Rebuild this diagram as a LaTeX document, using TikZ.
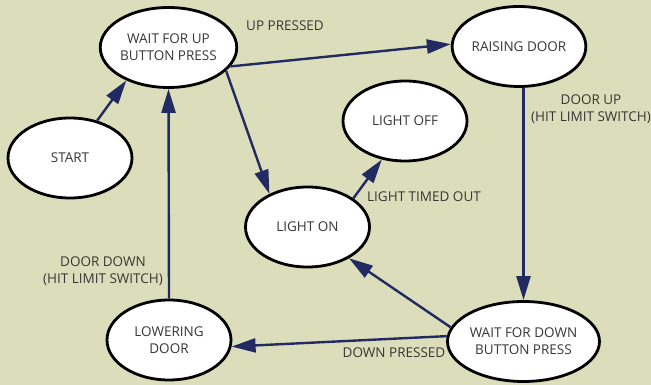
\documentclass[tikz,border=0pt]{standalone}
\usepackage{fontspec}
\setmainfont{Open Sans}
\usetikzlibrary{arrows.meta,shapes.geometric}
\definecolor{bg}{RGB}{220,221,186}
\definecolor{navy}{RGB}{33,43,98}
\definecolor{txt}{RGB}{55,55,55}
\tikzset{
  state/.style={ellipse, draw=black, fill=white, line width=2.8pt,
    minimum width=124pt, minimum height=80pt, inner sep=0pt,
    align=center, text=txt, font=\fontsize{13.5}{17}\selectfont},
  lbl/.style={align=center, text=txt, font=\fontsize{13.5}{17}\selectfont},
  edge/.style={draw=navy, line width=2.4pt, -{Triangle[length=24pt,width=14pt]}}
}
\begin{document}
\begin{tikzpicture}[x=1pt,y=1pt]
\fill[bg] (0,0) rectangle (651,385);
\useasboundingbox (0,0) rectangle (651,385);
\node[state] (wu) at (168.5,337.5) {WAIT FOR UP\\BUTTON PRESS};
\node[state] (st) at (70,227) {START};
\node[state] (ra) at (519,338.5) {RAISING DOOR};
\node[state] (lf) at (405,264) {LIGHT OFF};
\node[state] (on) at (307.5,158) {LIGHT ON};
\node[state] (lw) at (169,45) {LOWERING\\DOOR};
\node[state] (wd) at (523.5,43.5) {WAIT FOR DOWN\\BUTTON PRESS};

\node[lbl] (l1) at (285,359) {UP PRESSED};
\node[lbl] (l2) at (591,275.5) {DOOR UP\\(HIT LIMIT SWITCH)};
\node[lbl] (l3) at (424,188) {LIGHT TIMED OUT};
\node[lbl] (l4) at (103,114) {DOOR DOWN\\(HIT LIMIT SWITCH)};
\node[lbl] (l5) at (394,32) {DOWN PRESSED};

\draw[edge] (st.54) -- (wu.218);
\draw[edge] (lw.north) -- (wu.south);
\draw[edge] (wu.-17) -- (ra.178);
\draw[edge] (wu.-22) -- (on.139);
\draw[edge] (ra.south -| wd.north) -- (wd.north);
\draw[edge] (on.32) -- (lf.239);
\draw[edge] (wd.169) -- (on.-37);
\draw[edge] (wd.176) -- (lw.-6);
\end{tikzpicture}
\end{document}
